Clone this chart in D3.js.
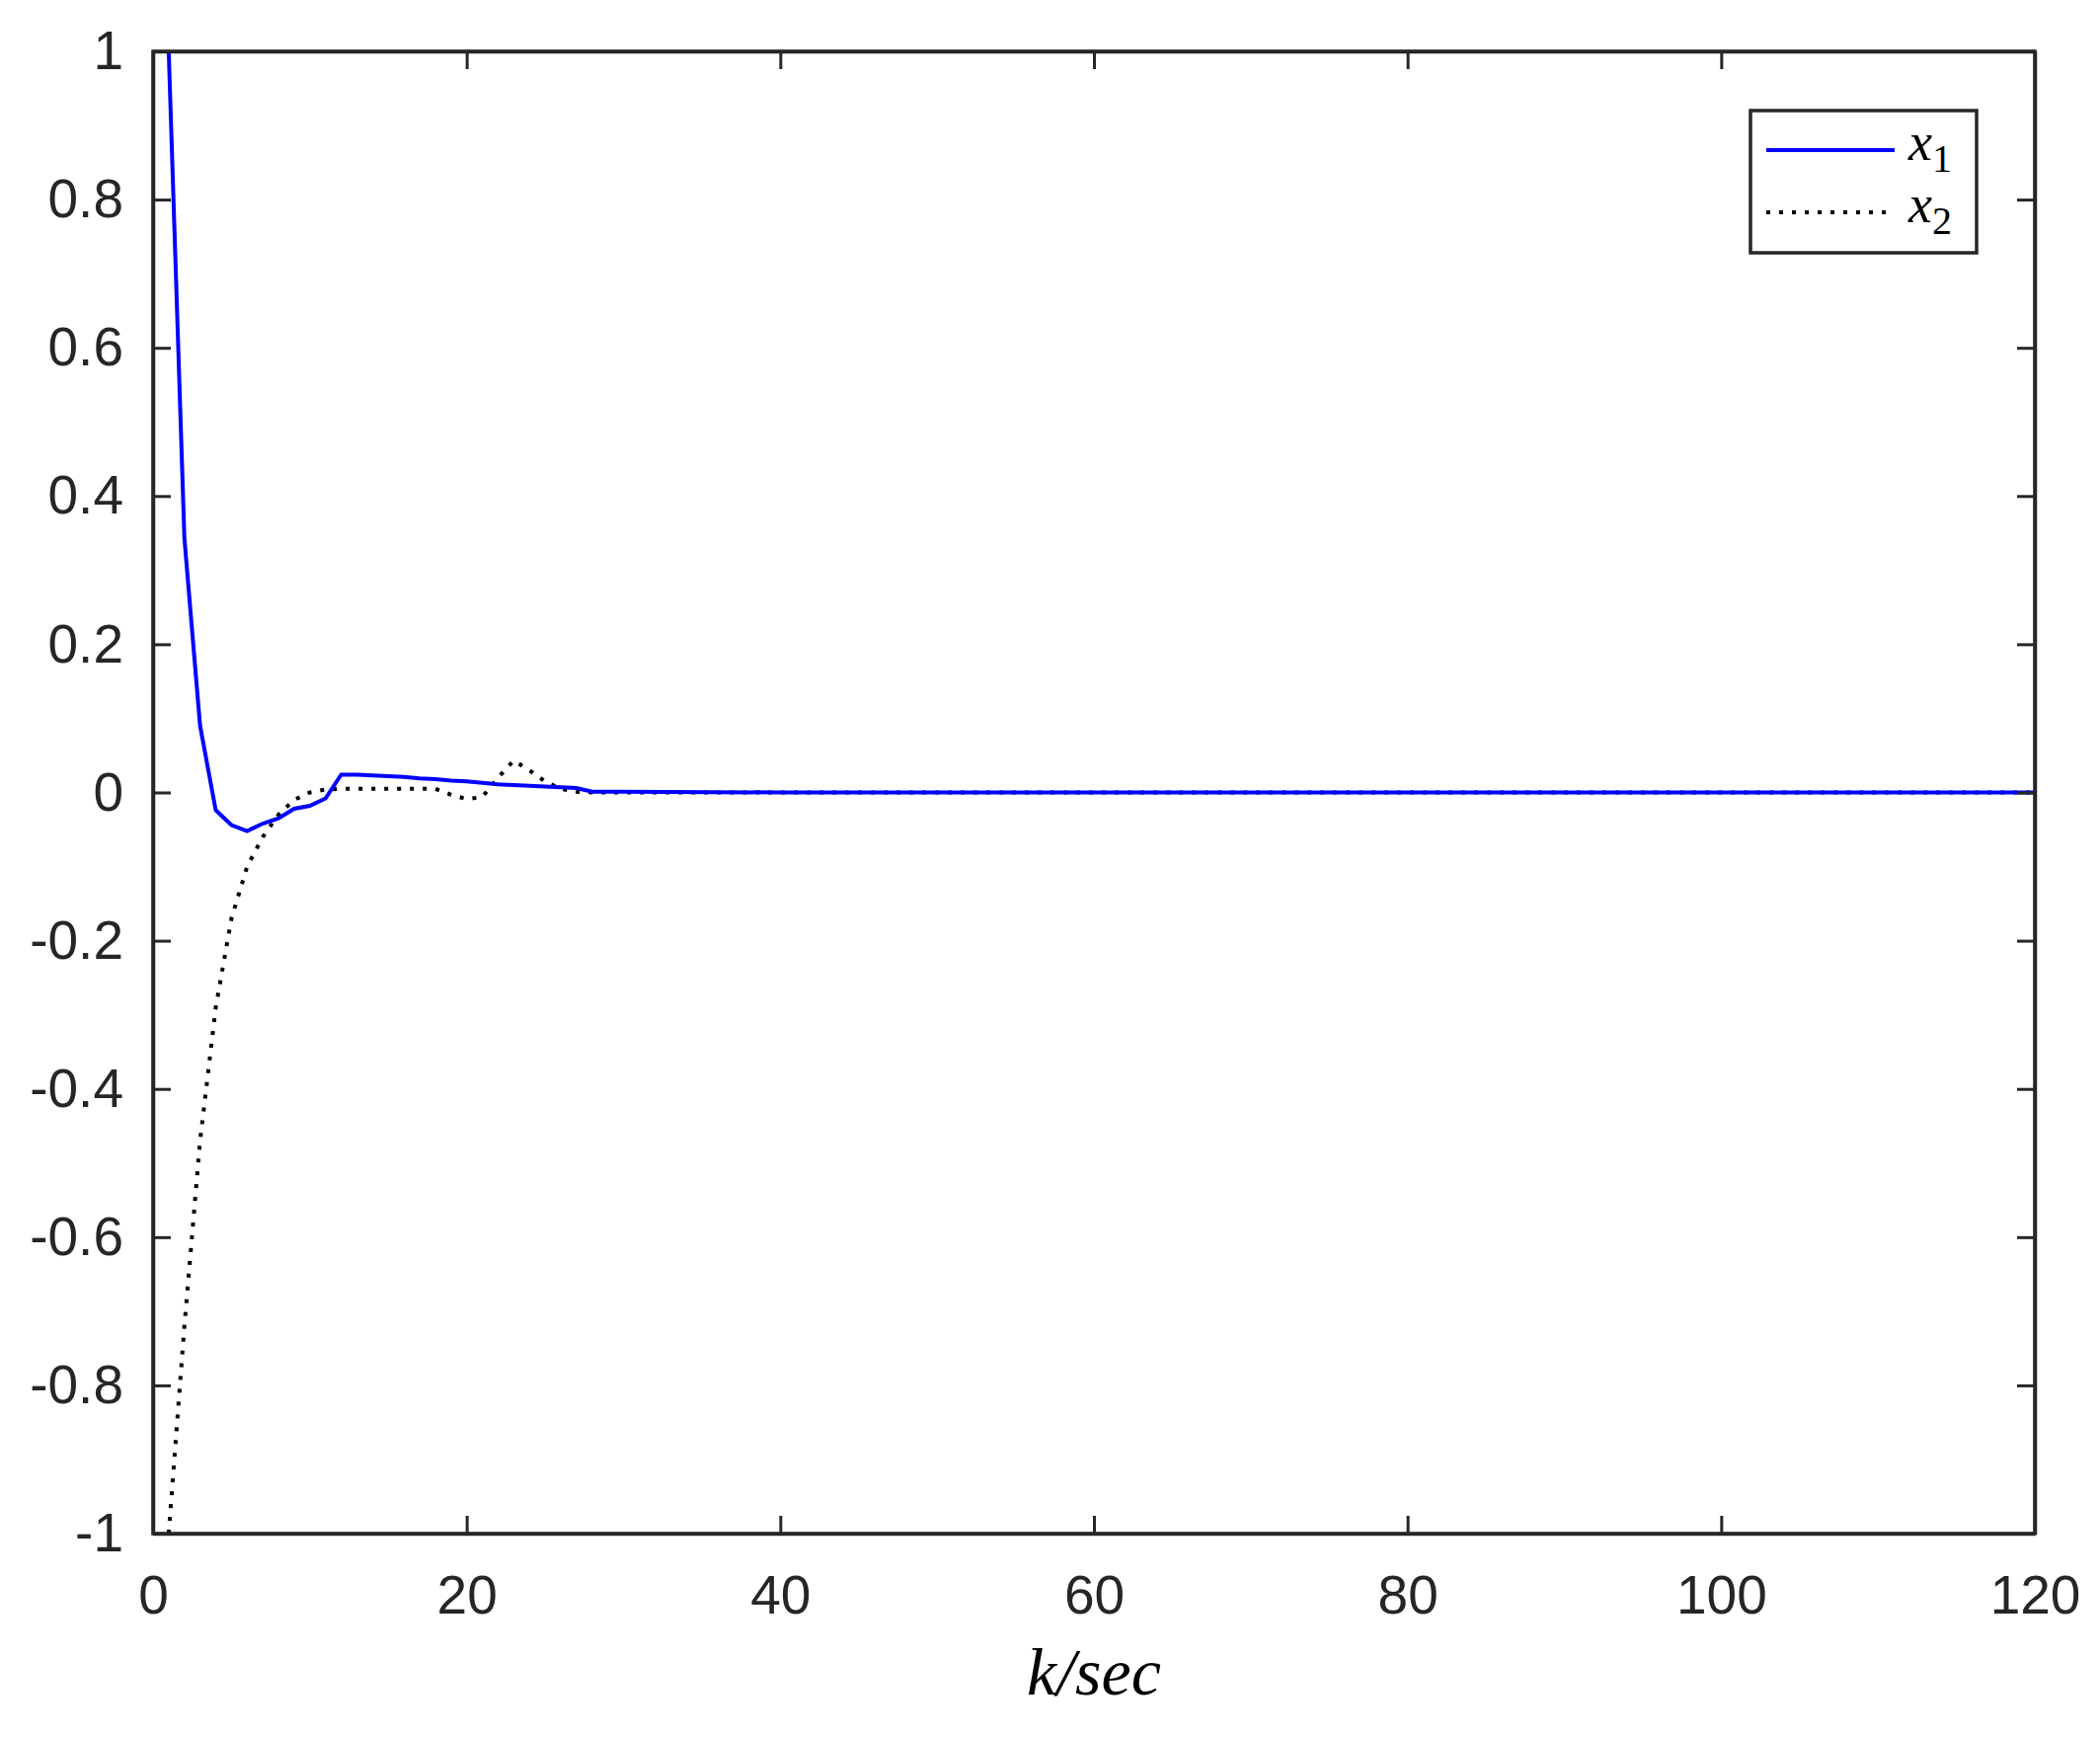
<!DOCTYPE html>
<html><head><meta charset="utf-8">
<script src="https://cdn.jsdelivr.net/npm/d3@7"></script>
<style>body{margin:0;background:#fff}</style>
</head><body>
<svg id="c" width="2127" height="1759"></svg>
<script>
const k  = [1,2,3,4,5,6,7,8,9,10,11,12,13,14,15,16,17,18,19,20,21,22,23,24,25,26,27,28,29,30,40,50,60,70,80,90,100,110,120];
const x1 = [1,0.343,0.09,-0.024,-0.044,-0.052,-0.042,-0.035,-0.022,-0.018,-0.008,0.024,0.024,0.023,0.022,0.021,0.019,0.018,0.016,0.015,0.013,0.011,0.010,0.009,0.008,0.007,0.006,0.001,0.001,0.001,0,0,0,0,0,0,0,0,0];
const x2 = [-1,-0.72,-0.47,-0.29,-0.17,-0.10,-0.06,-0.03,-0.01,0.0,0.004,0.005,0.005,0.005,0.005,0.005,0.005,0.005,-0.003,-0.009,-0.006,0.02,0.043,0.03,0.015,0.005,0.001,0,0,0,0,0,0,0,0,0,0,0,0];
const xTicks = [0,20,40,60,80,100,120];
const yTicks = [-1,-0.8,-0.6,-0.4,-0.2,0,0.2,0.4,0.6,0.8,1];

const svg = d3.select("#c");
const L=155, R=2061, T=52, B=1553;
const x = d3.scaleLinear().domain([0,120]).range([L,R]);
const y = d3.scaleLinear().domain([-1,1]).range([B,T]);
const ax="#262626", font="'Liberation Sans', Helvetica, Arial, sans-serif";

svg.append("clipPath").attr("id","cl").append("rect").attr("x",L).attr("y",T).attr("width",R-L).attr("height",B-T);
const g = svg.append("g").attr("clip-path","url(#cl)");
const line = d3.line().x((d,i)=>x(k[i])).y(d=>y(d));
g.append("path").datum(x2).attr("d",line).attr("fill","none").attr("stroke","#000").attr("stroke-width",4).attr("stroke-dasharray","4,9");
g.append("path").datum(x1).attr("d",line).attr("fill","none").attr("stroke","#0000ff").attr("stroke-width",4);

function styleAxis(sel){sel.selectAll("path").attr("stroke",ax).attr("stroke-width",3.5);
 sel.selectAll("line").attr("stroke",ax).attr("stroke-width",3);
 sel.selectAll("text").attr("fill",ax).attr("font-family",font).attr("font-size",55);}
svg.append("g").attr("transform",`translate(0,${B})`).call(d3.axisBottom(x).tickValues(xTicks).tickSize(-18).tickPadding(42).tickSizeOuter(0).tickFormat(d3.format("d"))).call(styleAxis);
svg.append("g").attr("transform",`translate(0,${T})`).call(d3.axisTop(x).tickValues(xTicks).tickSize(-18).tickSizeOuter(0).tickFormat("")).call(styleAxis);
svg.append("g").attr("transform",`translate(${L},0)`).call(d3.axisLeft(y).tickValues(yTicks).tickSize(-18).tickPadding(30).tickSizeOuter(0).tickFormat(d=>String(d))).call(styleAxis);
svg.append("g").attr("transform",`translate(${R},0)`).call(d3.axisRight(y).tickValues(yTicks).tickSize(-18).tickSizeOuter(0).tickFormat("")).call(styleAxis);
svg.append("rect").attr("x",L).attr("y",T).attr("width",R-L).attr("height",B-T).attr("fill","none").attr("stroke",ax).attr("stroke-width",3.5);

svg.append("text").attr("x",(L+R)/2).attr("y",1716).attr("text-anchor","middle").attr("font-family","'Liberation Serif','DejaVu Serif',serif").attr("font-style","italic").attr("font-size",68).attr("fill","#000").text("k/sec");

const lg = svg.append("g");
lg.append("rect").attr("x",1773).attr("y",112).attr("width",229).attr("height",144).attr("fill","#fff").attr("stroke",ax).attr("stroke-width",3.5);
const items=[{n:"1",c:"#0000ff",d:null,y:152},{n:"2",c:"#000",d:"4,9",y:215}];
items.forEach(it=>{
 lg.append("line").attr("x1",1789).attr("x2",1919).attr("y1",it.y).attr("y2",it.y).attr("stroke",it.c).attr("stroke-width",4).attr("stroke-dasharray",it.d);
 const t=lg.append("text").attr("x",1933).attr("y",it.y+10).attr("font-family","'Liberation Serif','DejaVu Serif',serif").attr("font-size",54).attr("fill","#000");
 t.append("tspan").attr("font-style","italic").text("x");
 t.append("tspan").attr("font-size",40).attr("dy",12).text(it.n);
});
</script></body></html>
